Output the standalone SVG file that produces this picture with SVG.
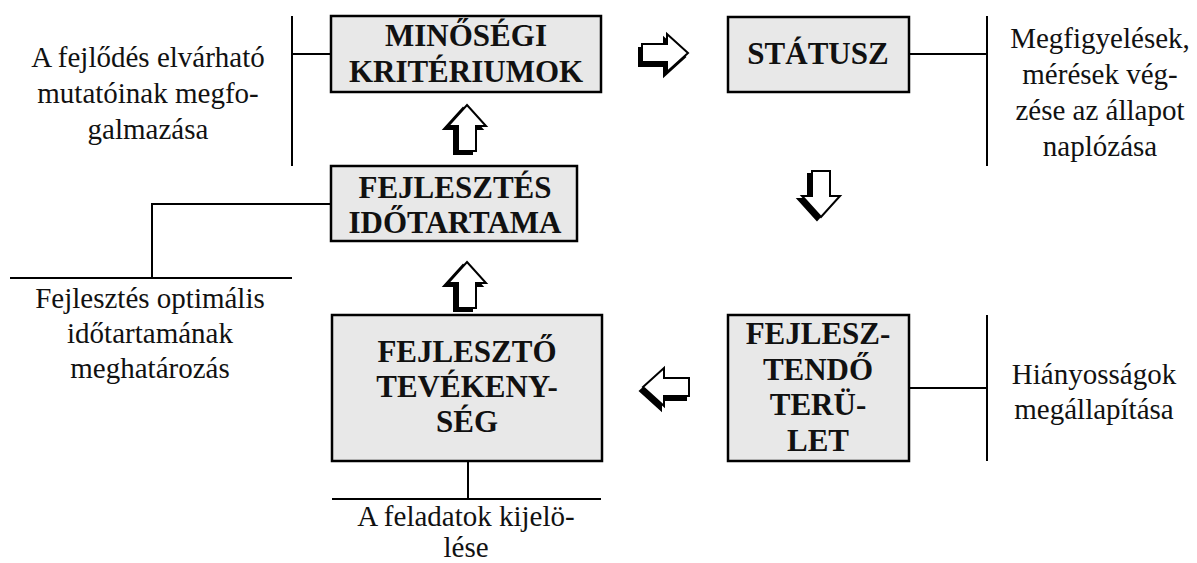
<svg xmlns="http://www.w3.org/2000/svg" xmlns:xlink="http://www.w3.org/1999/xlink" width="1197" height="563" viewBox="0 0 1197 563">
<style>
.box{fill:#e8e8e8;stroke:#000;stroke-width:2.5}
.ln{stroke:#000;stroke-width:2;fill:none}
.b{font-weight:bold;font-size:31px;fill:#111;text-anchor:middle}
.r{font-size:29px;fill:#111;text-anchor:middle}
.sh{fill:#000;stroke:#000;stroke-width:2;stroke-linejoin:miter}
.fg{fill:#fff;stroke:#000;stroke-width:2;stroke-linejoin:miter}
</style>
<defs>
<path id="arr" d="M0,-23 L19,-2 L9,-2 L9,23 L-9,23 L-9,-2 L-19,-2 Z"/>
</defs>
<rect width="1197" height="563" fill="#fff"/>
<g id="connectors">
<path class="ln" d="M292,16 V166 M292,54 H331"/>
<path class="ln" d="M909,54 H987 M987,16 V166"/>
<path class="ln" d="M331,204 H152 V278 M10,278 H292"/>
<path class="ln" d="M468,461 V499 M332,499 H601"/>
<path class="ln" d="M909,388 H987 M987,315 V461"/>
<g transform="translate(467,128)"><use xlink:href="#arr" class="sh" transform="translate(-4,3)"/><use xlink:href="#arr" class="fg"/></g>
<g transform="translate(467,285)"><use xlink:href="#arr" class="sh" transform="translate(-4,3)"/><use xlink:href="#arr" class="fg"/></g>
<g transform="translate(665,53)"><use xlink:href="#arr" class="sh" transform="translate(-3,4) rotate(90)"/><use xlink:href="#arr" class="fg" transform="rotate(90)"/></g>
<g transform="translate(821,194)"><use xlink:href="#arr" class="sh" transform="translate(-4,3) rotate(180)"/><use xlink:href="#arr" class="fg" transform="rotate(180)"/></g>
<g transform="translate(666,387)"><use xlink:href="#arr" class="sh" transform="translate(-3,4) rotate(-90)"/><use xlink:href="#arr" class="fg" transform="rotate(-90)"/></g>
</g>
<g font-family="Liberation Serif, DejaVu Serif, Times New Roman, serif">
<g id="minosegi">
<rect class="box" x="331" y="16" width="270" height="76"/>
<text class="b" x="466" y="46">MINŐSÉGI</text>
<text class="b" x="466" y="82">KRITÉRIUMOK</text>
</g>
<g id="statusz">
<rect class="box" x="728" y="17" width="181" height="75"/>
<text class="b" x="818" y="64">STÁTUSZ</text>
</g>
<g id="fejlesztendo">
<rect class="box" x="728" y="315" width="181" height="146"/>
<text class="b" x="818" y="344">FEJLESZ-</text>
<text class="b" x="818" y="380">TENDŐ</text>
<text class="b" x="818" y="415">TERÜ-</text>
<text class="b" x="818" y="451">LET</text>
</g>
<g id="fejleszto">
<rect class="box" x="332" y="315" width="270" height="146"/>
<text class="b" x="467" y="362">FEJLESZTŐ</text>
<text class="b" x="467" y="397">TEVÉKENY-</text>
<text class="b" x="467" y="432">SÉG</text>
</g>
<g id="idotartam">
<rect class="box" x="331" y="166" width="246" height="75"/>
<text class="b" x="455" y="198" font-size="30">FEJLESZTÉS</text>
<text class="b" x="455" y="233">IDŐTARTAMA</text>
</g>
<g id="note-left-top">
<text class="r" x="148" y="67">A fejlődés elvárható</text>
<text class="r" x="148" y="103">mutatóinak megfo-</text>
<text class="r" x="148" y="139">galmazása</text>
</g>
<g id="note-right-top">
<text class="r" x="1100" y="48">Megfigyelések,</text>
<text class="r" x="1100" y="84">mérések vég-</text>
<text class="r" x="1100" y="120">zése az állapot</text>
<text class="r" x="1100" y="156">naplózása</text>
</g>
<g id="note-left-mid">
<text class="r" x="150" y="308">Fejlesztés optimális</text>
<text class="r" x="150" y="343">időtartamának</text>
<text class="r" x="150" y="378">meghatározás</text>
</g>
<g id="note-right-bottom">
<text class="r" x="1094" y="384">Hiányosságok</text>
<text class="r" x="1094" y="419">megállapítása</text>
</g>
<g id="note-bottom">
<text class="r" x="466" y="526">A feladatok kijelö-</text>
<text class="r" x="466" y="557">lése</text>
</g>
</g>
</svg>
